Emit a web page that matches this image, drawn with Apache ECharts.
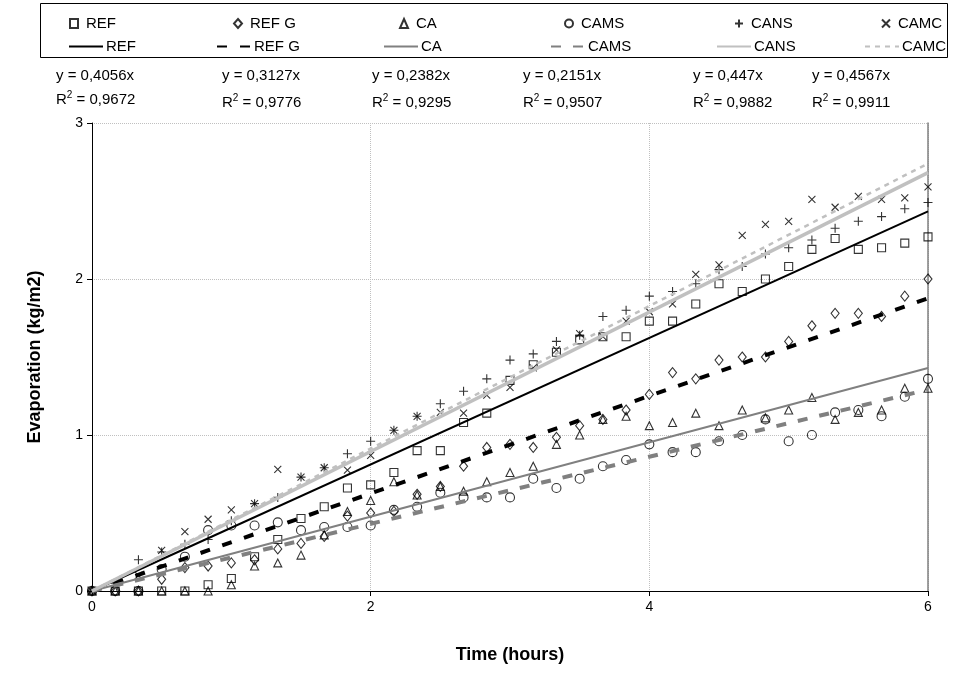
<!DOCTYPE html>
<html><head><meta charset="utf-8">
<script src="https://cdn.jsdelivr.net/npm/echarts@6.0.0/dist/echarts.min.js"></script>
<style>html,body{margin:0;padding:0;background:#fff}#c{width:956px;height:675px}</style>
</head><body><div id="c"></div>
<script>
const time = [0,0.1667,0.3333,0.5,0.6667,0.8333,1,1.1667,1.3333,1.5,1.6667,1.8333,2,2.1667,2.3333,2.5,2.6667,2.8333,3,3.1667,3.3333,3.5,3.6667,3.8333,4,4.1667,4.3333,4.5,4.6667,4.8333,5,5.1667,5.3333,5.5,5.6667,5.8333,6];
const ref  = [0,0,0,0,0,0.04,0.08,0.22,0.33,0.465,0.54,0.66,0.68,0.76,0.90,0.90,1.08,1.14,1.35,1.45,1.53,1.61,1.63,1.63,1.73,1.73,1.84,1.97,1.92,2.00,2.08,2.19,2.26,2.19,2.20,2.23,2.27];
const refG = [0,0,0,0.075,0.15,0.16,0.18,0.20,0.27,0.305,0.35,0.48,0.50,0.51,0.62,0.67,0.80,0.92,0.94,0.92,0.985,1.06,1.10,1.16,1.26,1.40,1.36,1.48,1.50,1.50,1.60,1.70,1.78,1.78,1.76,1.89,2.00];
const ca   = [0,0,0,0,0,0,0.04,0.16,0.18,0.23,0.36,0.51,0.58,0.70,0.615,0.67,0.64,0.70,0.76,0.80,0.94,1.00,1.10,1.12,1.06,1.08,1.14,1.06,1.16,1.11,1.16,1.24,1.10,1.145,1.16,1.30,1.30];
const cams = [0,0,0,0.14,0.22,0.39,0.42,0.42,0.44,0.39,0.41,0.41,0.42,0.52,0.54,0.63,0.60,0.60,0.60,0.72,0.66,0.72,0.80,0.84,0.94,0.89,0.89,0.96,1.00,1.10,0.96,1.00,1.145,1.16,1.12,1.245,1.36];
const cans = [0,0.05,0.20,0.25,0.30,0.33,0.45,0.56,0.60,0.73,0.79,0.88,0.96,1.03,1.12,1.20,1.28,1.36,1.48,1.52,1.60,1.64,1.76,1.80,1.89,1.92,1.97,2.06,2.08,2.16,2.20,2.25,2.325,2.37,2.40,2.45,2.49];
const camc = [0,0.04,0.10,0.26,0.38,0.46,0.52,0.56,0.78,0.73,0.79,0.775,0.87,1.03,1.12,1.145,1.14,1.255,1.305,1.43,1.545,1.65,1.63,1.73,1.79,1.84,2.03,2.09,2.28,2.35,2.37,2.51,2.46,2.53,2.51,2.52,2.59];
const names = ['REF','REF G','CA','CAMS','CANS','CAMC'];
const trendStart = [0,0,0,0,0,0];
const trendAt6 = [2.434,1.876,1.429,1.291,2.682,2.740];
const eqSlope = ['0,4056','0,3127','0,2382','0,2151','0,447','0,4567'];
const eqR2 = ['0,9672','0,9776','0,9295','0,9507','0,9882','0,9911'];
const xTicks = [0,2,4,6];
const yTicks = [0,1,2,3];

const FONT = 'Liberation Sans, Arial, sans-serif';
const values = [ref, refG, ca, cams, cans, camc];
const symbols = ['rect','diamond','triangle','circle','path://M5,0V10M0,5H10','path://M0,0L10,10M10,0L0,10'];
const symSizes = [8,[8,10],8,9,9,7];
const lineStyles = [
  {color:'#000000', width:2, type:'solid'},
  {color:'#000000', width:4, type:[10,13]},
  {color:'#808080', width:2, type:'solid'},
  {color:'#808080', width:4, type:[10,12]},
  {color:'#c0c0c0', width:3.5, type:'solid'},
  {color:'#c0c0c0', width:2.5, type:[5,5]}
];

const series = [];
names.forEach((n,k)=>{
  series.push({
    name:n, type:'scatter', symbol:symbols[k], symbolSize:symSizes[k],
    data: time.map((t,i)=>[t, values[k][i]]),
    itemStyle:{color:'rgba(0,0,0,0)', borderColor:'#000', borderWidth:1.1},
    emphasis:{disabled:true}, z:2
  });
});
names.forEach((n,k)=>{
  series.push({
    name:n+'_t', type:'line', symbol:'none', showSymbol:false,
    data:[[0,trendStart[k]],[6,trendAt6[k]]],
    itemStyle:{color:lineStyles[k].color},
    lineStyle:lineStyles[k], z:3, silent:true
  });
});

const row1Icon = [68,232,398,563,733,880];
const row2Text = [100,248,415,582,748,896];
const legends = [];
names.forEach((n,k)=>{
  legends.push({data:[n], left:row1Icon[k]-4, top:11, itemWidth:8, itemHeight:9, selectedMode:false,
    textStyle:{fontFamily:FONT, fontSize:15, color:'#000', padding:[0,0,0,3]}});
  legends.push({data:[n+'_t'], left:row2Text[k]-3-34, top:34, itemWidth:34, itemHeight:12, selectedMode:false,
    itemStyle:{opacity:0}, formatter:s=>s.replace('_t',''),
    textStyle:{fontFamily:FONT, fontSize:15, color:'#000', padding:[0,0,0,-2]}});
});

const eqX = [56,222,372,523,693,812];
const graphics = [{type:'rect', shape:{x:40.5,y:3.5,width:907,height:54}, style:{fill:null, stroke:'#000', lineWidth:1}}];
names.forEach((n,k)=>{
  graphics.push({type:'text', left:eqX[k], top:68, style:{text:'y = '+eqSlope[k]+'x', font:'15px '+FONT, fill:'#000'}});
  graphics.push({type:'text', left:eqX[k], top:k===0?90:93, style:{
    text:'R{s|2} = '+eqR2[k], fontFamily:FONT, fontSize:15, fill:'#000', lineHeight:20,
    rich:{s:{fontSize:10, fontFamily:FONT, verticalAlign:'top', lineHeight:20, padding:[0,0,9,0]}}}});
});

const chart = echarts.init(document.getElementById('c'), null, {renderer:'canvas'});
chart.setOption({
  animation:false,
  backgroundColor:'#fff',
  grid:{left:92, right:28, top:123, bottom:84},
  legend:legends,
  graphic:graphics,
  xAxis:{type:'value', min:xTicks[0], max:xTicks[xTicks.length-1], interval:2,
    name:'Time (hours)', nameLocation:'middle', nameGap:55,
    nameTextStyle:{fontFamily:FONT, fontSize:18, fontWeight:'bold', color:'#000'},
    axisLine:{lineStyle:{color:'#000', width:1}},
    axisTick:{show:true, length:5, lineStyle:{color:'#000'}},
    axisLabel:{fontFamily:FONT, fontSize:14, color:'#000', margin:9},
    splitLine:{show:true, lineStyle:{color:'#c0c0c0', type:'dotted', width:1}}},
  yAxis:[{type:'value', min:yTicks[0], max:yTicks[yTicks.length-1], interval:1,
    name:'Evaporation (kg/m2)', nameLocation:'middle', nameGap:48,
    nameTextStyle:{fontFamily:FONT, fontSize:18, fontWeight:'bold', color:'#000'},
    axisLine:{show:true, lineStyle:{color:'#000', width:1}},
    axisTick:{show:true, length:5, lineStyle:{color:'#000'}},
    axisLabel:{fontFamily:FONT, fontSize:14, color:'#000', margin:9},
    splitLine:{show:true, lineStyle:{color:'#c0c0c0', type:'dotted', width:1}}},
   {type:'value', position:'right', min:0, max:3, interval:1,
    axisLine:{show:true, lineStyle:{color:'#808080', width:1.5}},
    axisTick:{show:false}, axisLabel:{show:false}, splitLine:{show:false}}],
  series:series
});
</script></body></html>
